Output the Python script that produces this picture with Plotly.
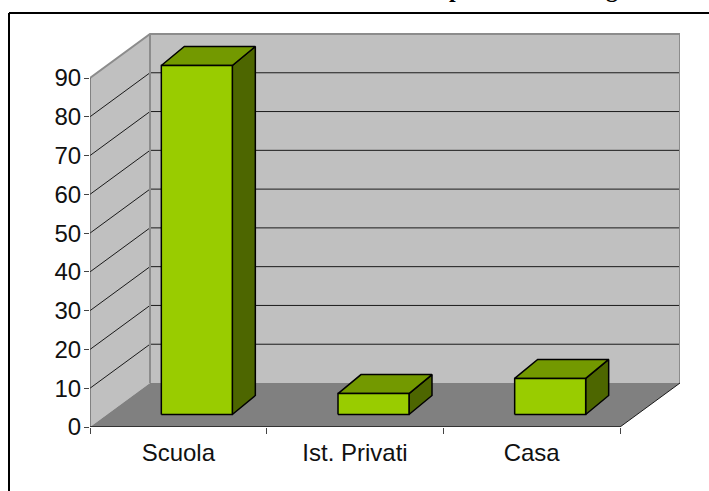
import plotly.graph_objects as go

categories = ["Scuola", "Ist. Privati", "Casa"]
values = [90, 5.4, 9.3]
y_ticks = [0, 10, 20, 30, 40, 50, 60, 70, 80, 90]
x_boundaries = [0, 1, 2, 3]

FRONT, TOP, SIDE = "#99CC00", "#739900", "#4D6600"
WALL, FLOOR, EDGE = "#C0C0C0", "#808080", "#8C8C8C"

W, H = 709, 491
PL, PR, PT, PB = 90, 680, 33, 427     # plot box in pixels
CAT_PX = (620 - 90) / 3               # pixels per category
VAL_PX = 349 / 90                     # pixels per value unit
DX, DY = 60 / CAT_PX, 44 / VAL_PX     # wall depth projection
BAR_W = 71 / CAT_PX
BAR_DX, BAR_DY = 23 / CAT_PX, 19 / VAL_PX
OFF_X, OFF_Y = (DX - BAR_DX) / 2, (DY - BAR_DY) / 2
N = len(categories)
Y_MAX = max(y_ticks)

fig = go.Figure()


def poly(xs, ys, fill, line="rgba(0,0,0,0)", width=0):
    fig.add_trace(go.Scatter(x=xs, y=ys, mode="lines", fill="toself", fillcolor=fill,
                             line=dict(color=line, width=width), hoverinfo="skip",
                             showlegend=False, cliponaxis=False))


def seg(xs, ys, color, width):
    fig.add_trace(go.Scatter(x=xs, y=ys, mode="lines", line=dict(color=color, width=width),
                             hoverinfo="skip", showlegend=False, cliponaxis=False))


# walls and floor
poly([DX, N + DX, N + DX, DX, DX], [DY, DY, Y_MAX + DY, Y_MAX + DY, DY], WALL)
poly([0, DX, DX, 0, 0], [0, DY, Y_MAX + DY, Y_MAX, 0], WALL)
poly([0, N, N + DX, DX, 0], [0, 0, DY, DY, 0], FLOOR)

# gridlines
for v in y_ticks[1:-1]:
    seg([0, DX, N + DX], [v, v + DY, v + DY], "#1a1a1a", 1)

# wall edges
seg([0, DX, N + DX, N + DX], [Y_MAX, Y_MAX + DY, Y_MAX + DY, DY], EDGE, 2)
seg([DX, DX], [DY, Y_MAX + DY], EDGE, 2)
seg([N, N + DX], [0, DY], "#1a1a1a", 1)
seg([0, 0], [0, Y_MAX], "#444444", 1)
seg([0, N], [0, 0], "#333333", 2)

# bars
for i, v in enumerate(values):
    x0 = i + 0.5 + OFF_X - BAR_W / 2
    x1 = x0 + BAR_W
    b = OFF_Y
    t = b + v
    poly([x1, x1 + BAR_DX, x1 + BAR_DX, x1, x1], [b, b + BAR_DY, t + BAR_DY, t, b], SIDE, "black", 1.5)
    poly([x0, x0 + BAR_DX, x1 + BAR_DX, x1, x0], [t, t + BAR_DY, t + BAR_DY, t, t], TOP, "black", 1.5)
    poly([x0, x1, x1, x0, x0], [b, b, t, t, b], FRONT, "black", 1.5)

font = dict(family="Liberation Sans, Arial, sans-serif", size=24, color="#111111")

fig.update_layout(
    width=W, height=H, margin=dict(l=PL, r=W - PR, t=PT, b=H - PB, pad=0),
    paper_bgcolor="white", plot_bgcolor="white", showlegend=False, font=font,
    xaxis=dict(range=[0, (PR - PL) / CAT_PX], tickmode="array",
               tickvals=[i + 0.5 for i in range(N)], ticktext=categories,
               ticks="outside", ticklen=1, tickcolor="rgba(0,0,0,0)", tickwidth=1,
               ticklabelstandoff=3, showgrid=False, zeroline=False, showline=False,
               minor=dict(tickmode="array", tickvals=x_boundaries, ticks="outside",
                          ticklen=6, tickcolor="#444444", tickwidth=1, showgrid=False)),
    yaxis=dict(range=[0, (PB - PT) / VAL_PX], tickmode="array", tickvals=y_ticks,
               ticks="outside", ticklen=5, tickcolor="#444444", tickwidth=1,
               ticklabelstandoff=-2, showgrid=False, zeroline=False, showline=False),
)

# outer frame running off the page, and the cropped title descenders
FX, FY = 9, 13
fig.add_shape(type="line", xref="paper", yref="paper",
              x0=(FX - PL) / (PR - PL), x1=(W + 5 - PL) / (PR - PL),
              y0=(PB - FY) / (PB - PT), y1=(PB - FY) / (PB - PT),
              line=dict(color="black", width=2))
fig.add_shape(type="line", xref="paper", yref="paper",
              x0=(FX - PL) / (PR - PL), x1=(FX - PL) / (PR - PL),
              y0=(PB - FY) / (PB - PT), y1=(PB - H - 5) / (PB - PT),
              line=dict(color="black", width=2))

for ch, px in [("p", 455), ("g", 620)]:
    fig.add_annotation(text=f"<b>{ch}</b>", xref="paper", yref="paper",
                       x=(px - PL) / (PR - PL), y=(PB - 4) / (PB - PT), yanchor="bottom",
                       yshift=0, showarrow=False,
                       font=dict(family="Liberation Serif, serif", size=24, color="black"))

fig.write_html("out.html", post_script="document.body.style.margin='0';", config={"displayModeBar": False})
